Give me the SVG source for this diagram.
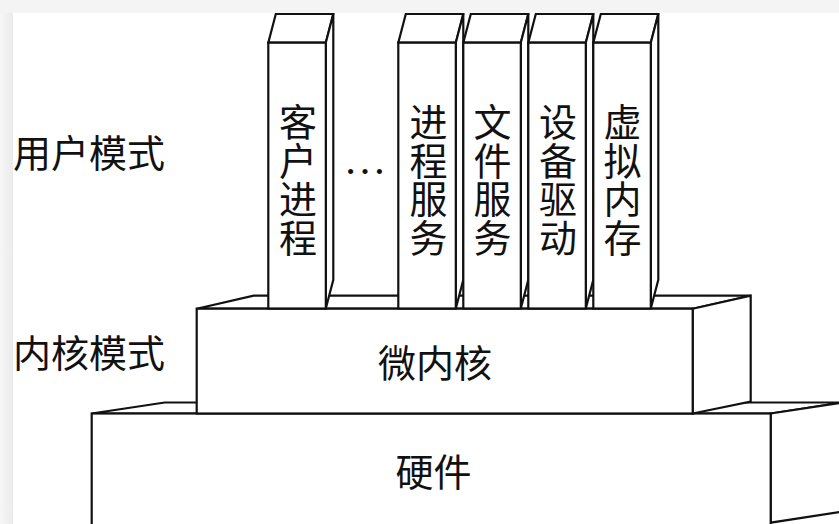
<svg xmlns="http://www.w3.org/2000/svg" width="839" height="524" viewBox="0 0 839 524">
  <defs>
    <linearGradient id="leftShade" x1="0" y1="0" x2="1" y2="0">
      <stop offset="0" stop-color="#f7f7f7"/>
      <stop offset="1" stop-color="#ebebeb"/>
    </linearGradient>
  </defs>
  <style>
    .face { fill: #ffffff; stroke: #111111; stroke-width: 2.2; stroke-linejoin: miter; }
    .lbl { font-family: "Noto Sans CJK SC", "Noto Sans CJK TC", sans-serif; font-size: 38px; fill: #111111; dominant-baseline: central; }
    .mid { text-anchor: middle; }
    .vert { font-family: "Noto Sans CJK SC", "Noto Sans CJK TC", sans-serif; font-size: 38px; fill: #111111; writing-mode: vertical-rl; text-anchor: middle; letter-spacing: 0.7px; }
  </style>

  <!-- page frame -->
  <rect x="0" y="0" width="839" height="524" fill="#f4f4f4"/>
  <rect x="0" y="12.7" width="13" height="512" fill="url(#leftShade)"/>
  <rect x="13" y="12.7" width="826" height="512" fill="#ffffff"/>

  <!-- hardware block -->
  <g id="hardware">
    <polygon class="face" points="91.7,413.5 770.7,413.5 843.7,402.5 164.7,402.5"/>
    <polygon class="face" points="770.7,413.5 843.7,402.5 843.7,511.5 770.7,522.7"/>
    <rect class="face" x="91.7" y="413.5" width="679" height="120"/>
    <text class="lbl mid" x="433.5" y="469">硬件</text>
  </g>

  <!-- microkernel block -->
  <g id="microkernel">
    <polygon class="face" points="196.7,308.7 692.7,308.7 750.7,295.7 253.7,295.7"/>
    <polygon class="face" points="692.7,308.7 750.7,295.7 750.7,401.5 692.7,413.5"/>
    <rect class="face" x="196.7" y="308.7" width="496" height="104.8"/>
    <text class="lbl mid" x="435" y="360">微内核</text>
  </g>

  <!-- pillars -->
  <g id="client-process">
    <polygon class="face" points="268.3,42.7 325.8,42.7 333.3,14 275.8,14"/>
    <polygon class="face" points="325.8,42.7 333.3,14 333.3,279.8 325.8,308.5"/>
    <rect class="face" x="268.3" y="42.7" width="57.5" height="265.8"/>
    <text class="vert" x="298" y="180">客户进程</text>
  </g>

  <g id="ellipsis">
    <text x="365" y="174" text-anchor="middle" font-family="Liberation Serif, serif" font-size="43" fill="#111111">…</text>
  </g>

  <g id="process-service">
    <polygon class="face" points="398.3,42.7 455.8,42.7 463.3,14 405.8,14"/>
    <polygon class="face" points="455.8,42.7 463.3,14 463.3,279.8 455.8,308.5"/>
    <rect class="face" x="398.3" y="42.7" width="57.5" height="265.8"/>
    <text class="vert" x="428.5" y="180">进程服务</text>
  </g>

  <g id="file-service">
    <polygon class="face" points="463.3,42.7 520.8,42.7 528.3,14 470.8,14"/>
    <polygon class="face" points="520.8,42.7 528.3,14 528.3,279.8 520.8,308.5"/>
    <rect class="face" x="463.3" y="42.7" width="57.5" height="265.8"/>
    <text class="vert" x="492.5" y="180">文件服务</text>
  </g>

  <g id="device-driver">
    <polygon class="face" points="528.3,42.7 585.8,42.7 593.3,14 535.8,14"/>
    <polygon class="face" points="585.8,42.7 593.3,14 593.3,279.8 585.8,308.5"/>
    <rect class="face" x="528.3" y="42.7" width="57.5" height="265.8"/>
    <text class="vert" x="558" y="180">设备驱动</text>
  </g>

  <g id="virtual-memory">
    <polygon class="face" points="593.3,42.7 650.8,42.7 658.3,14 600.8,14"/>
    <polygon class="face" points="650.8,42.7 658.3,14 658.3,279.8 650.8,308.5"/>
    <rect class="face" x="593.3" y="42.7" width="57.5" height="265.8"/>
    <text class="vert" x="622.5" y="180">虚拟内存</text>
  </g>

  <!-- mode labels -->
  <g id="user-mode">
    <text class="lbl" x="13" y="150.5">用户模式</text>
  </g>
  <g id="kernel-mode">
    <text class="lbl" x="13" y="350.5">内核模式</text>
  </g>
</svg>
